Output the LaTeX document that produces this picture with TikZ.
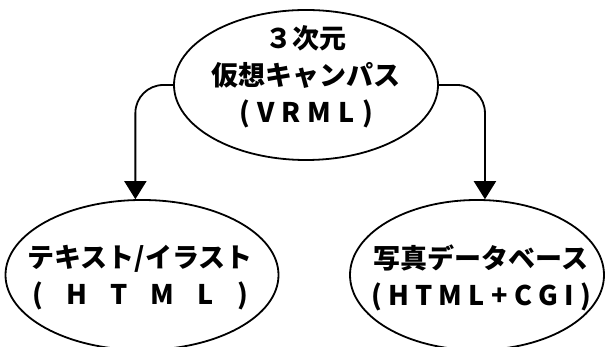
\documentclass[tikz,border=0pt]{standalone}
\usepackage{fontspec}
\setmainfont{Noto Sans CJK JP}
\usetikzlibrary{shapes.geometric, arrows.meta}

\begin{document}
\begin{tikzpicture}[x=1pt, y=1pt,
  oval/.style={ellipse, draw, line width=1.8pt, inner sep=0pt},
  lbl/.style={align=center, inner sep=0pt, font=\bfseries\fontsize{27}{37}\selectfont},
  link/.style={line width=1.8pt, rounded corners=28pt, -{Triangle[length=18pt,width=22pt]}}]

\useasboundingbox (0,0) rectangle (605,347);

% the three ovals
\node[oval, minimum width=264pt, minimum height=150pt] (vr) at (306,262) {};
\node[oval, minimum width=273pt, minimum height=150pt] (html) at (142,72) {};
\node[oval, minimum width=254pt, minimum height=150pt] (db) at (477,72) {};

\node[lbl] (vrtext) at (306,270) {３次元\\仮想キャンパス\\\makebox[134pt]{(\hfill V\hfill R\hfill M\hfill L\hfill )}};
\node[lbl] (htmltext) at (140,69) {テキスト/イラスト\\\makebox[216pt]{(\hfill H\hfill T\hfill M\hfill L\hfill )}};
\node[lbl] (dbtext) at (481,69) {写真データベース\\\makebox[220pt]{(\hfill H\hfill T\hfill M\hfill L\hfill +\hfill C\hfill G\hfill I\hfill )}};

% connectors
\draw[link] (vr.west) -| (html.95);
\draw[link] (vr.east) -| (db.84);
\end{tikzpicture}
\end{document}
